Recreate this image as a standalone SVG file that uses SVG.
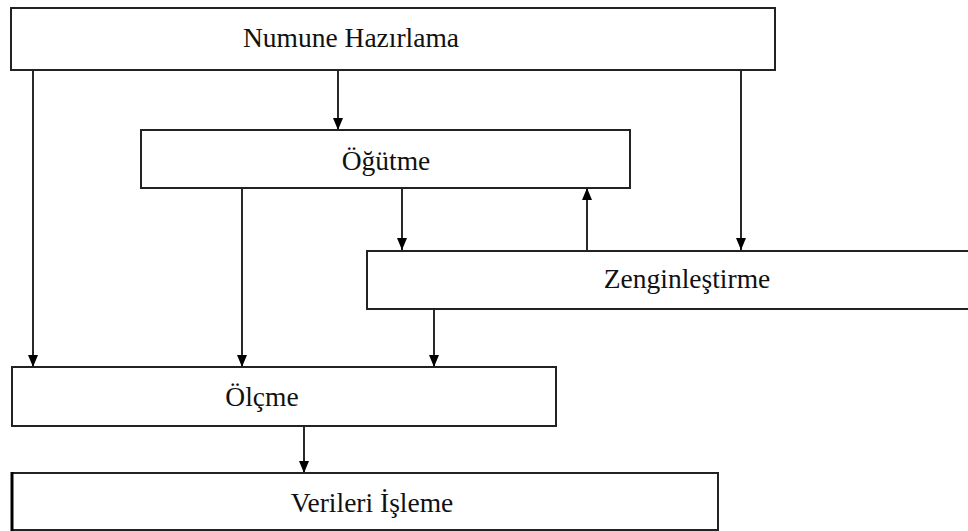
<svg xmlns="http://www.w3.org/2000/svg" width="968" height="531" viewBox="0 0 968 531">
<style>
.box{fill:#fff;stroke:#222;stroke-width:2}
.lbl{font-family:'Liberation Serif','DejaVu Serif','Times New Roman',serif;font-size:27.5px;fill:#111;text-anchor:middle}
.ln{stroke:#111;stroke-width:1.8;fill:none;marker-end:url(#ah)}
</style>
<defs>
<marker id="ah" viewBox="0 0 12 10" refX="12" refY="5" markerWidth="12" markerHeight="10" markerUnits="userSpaceOnUse" orient="auto">
<path d="M0,0 L12,5 L0,10 Z" fill="#000"/>
</marker>
</defs>
<rect width="968" height="531" fill="#fff"/>
<g id="connectors">
<line class="ln" x1="338" y1="70" x2="338" y2="130"/>
<line class="ln" x1="33" y1="70" x2="33" y2="367"/>
<line class="ln" x1="741" y1="70" x2="741" y2="250"/>
<line class="ln" x1="242" y1="188" x2="242" y2="367"/>
<line class="ln" x1="402" y1="188" x2="402" y2="250"/>
<line class="ln" x1="587" y1="250" x2="587" y2="188"/>
<line class="ln" x1="434" y1="309" x2="434" y2="367"/>
<line class="ln" x1="304" y1="426" x2="304" y2="473"/>
</g>
<g id="numune">
<rect class="box" x="11" y="8" width="764" height="62"/>
<text class="lbl" x="351" y="47">Numune Hazırlama</text>
</g>
<g id="ogutme">
<rect class="box" x="141" y="130" width="489" height="58"/>
<text class="lbl" x="386" y="170">Öğütme</text>
</g>
<g id="zenginlestirme">
<rect class="box" x="367" y="251" width="610" height="58"/>
<text class="lbl" x="687" y="288">Zenginleştirme</text>
</g>
<g id="olcme">
<rect class="box" x="12" y="367" width="544" height="59"/>
<text class="lbl" x="262" y="406">Ölçme</text>
</g>
<g id="verileri">
<rect class="box" x="12" y="473" width="706" height="57"/>
<line x1="12" y1="472" x2="12" y2="531" stroke="#000" stroke-width="3"/>
<text class="lbl" x="372" y="512">Verileri İşleme</text>
</g>
</svg>
